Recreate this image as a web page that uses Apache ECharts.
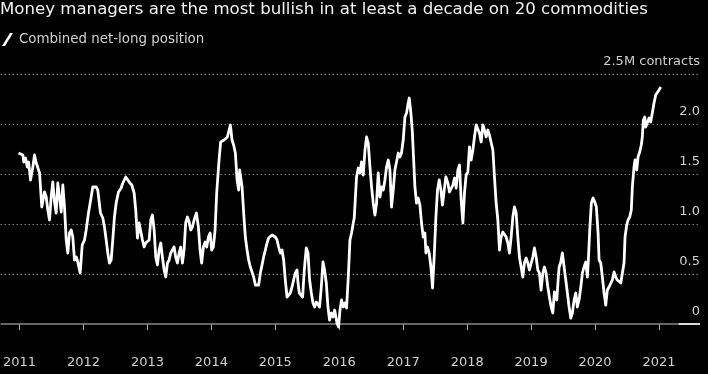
<!DOCTYPE html>
<html>
<head>
<meta charset="utf-8">
<script src="https://cdn.jsdelivr.net/npm/echarts@6/dist/echarts.min.js"></script>
<style>
html,body{margin:0;padding:0;background:#000;}
#chart{width:708px;height:374px;}
</style>
</head>
<body>
<div id="chart"></div>
<script>
// Decimal-year dates and combined net-long position, million contracts
const dates = [
2010.984,2011.052,2011.067,2011.094,2011.120,2011.141,2011.172,2011.208,2011.234,2011.261,2011.286,2011.313,2011.348,2011.391,2011.417,2011.442,2011.469,2011.495,2011.520,2011.547,2011.573,2011.598,2011.625,2011.652,2011.677,2011.703,2011.730,2011.755,2011.781,2011.808,2011.833,2011.859,2011.886,2011.911,2011.948,2011.980,
2012.016,2012.042,2012.078,2012.120,2012.145,2012.198,2012.223,2012.266,2012.302,2012.328,2012.355,2012.380,2012.406,2012.433,2012.458,2012.484,2012.511,2012.547,2012.589,2012.609,2012.661,2012.688,2012.714,2012.755,2012.792,2012.817,2012.844,2012.870,2012.895,2012.922,2012.948,2012.973,
2013.000,2013.027,2013.052,2013.078,2013.105,2013.130,2013.156,2013.183,2013.208,2013.234,2013.261,2013.286,2013.313,2013.339,2013.364,2013.391,2013.417,2013.442,2013.469,2013.495,2013.520,2013.547,2013.573,2013.598,2013.625,2013.652,2013.677,2013.703,2013.730,2013.766,2013.797,2013.823,2013.848,2013.875,2013.902,2013.927,2013.953,2013.980,
2014.005,2014.031,2014.058,2014.083,2014.120,2014.145,2014.172,2014.198,2014.223,2014.250,2014.277,2014.297,2014.323,2014.348,2014.375,2014.402,2014.427,2014.442,2014.464,2014.480,2014.505,2014.531,2014.558,2014.583,2014.609,2014.636,2014.661,2014.688,2014.714,2014.739,2014.766,2014.792,2014.817,2014.844,2014.870,2014.895,2014.922,2014.948,2014.973,
2015.000,2015.027,2015.052,2015.078,2015.105,2015.130,2015.156,2015.183,2015.208,2015.234,2015.261,2015.286,2015.313,2015.339,2015.355,2015.375,2015.402,2015.427,2015.453,2015.484,2015.511,2015.536,2015.563,2015.589,2015.614,2015.641,2015.667,2015.692,2015.719,2015.745,2015.770,2015.797,2015.823,2015.848,2015.875,2015.902,2015.927,2015.964,2015.989,
2016.011,2016.036,2016.063,2016.089,2016.114,2016.141,2016.167,2016.192,2016.219,2016.234,2016.255,2016.270,2016.297,2016.323,2016.348,2016.375,2016.402,2016.427,2016.453,2016.480,2016.505,2016.531,2016.558,2016.583,2016.609,2016.636,2016.661,2016.688,2016.714,2016.739,2016.766,2016.792,2016.817,2016.844,2016.870,2016.895,2016.922,2016.948,2016.973,
2017.000,2017.027,2017.052,2017.078,2017.094,2017.120,2017.141,2017.161,2017.183,2017.208,2017.234,2017.261,2017.286,2017.313,2017.339,2017.355,2017.380,2017.406,2017.433,2017.458,2017.484,2017.511,2017.536,2017.563,2017.589,2017.614,2017.641,2017.667,2017.698,2017.723,2017.750,2017.777,2017.802,2017.828,2017.855,2017.880,2017.906,2017.933,2017.958,2017.984,
2018.011,2018.036,2018.063,2018.089,2018.114,2018.141,2018.167,2018.192,2018.219,2018.245,2018.270,2018.297,2018.323,2018.348,2018.375,2018.402,2018.427,2018.453,2018.480,2018.505,2018.531,2018.558,2018.583,2018.609,2018.636,2018.661,2018.688,2018.714,2018.739,2018.766,2018.792,2018.817,2018.844,2018.870,2018.895,2018.922,2018.948,2018.973,
2019.000,2019.027,2019.052,2019.078,2019.105,2019.130,2019.156,2019.183,2019.208,2019.234,2019.261,2019.286,2019.313,2019.339,2019.364,2019.386,2019.402,2019.422,2019.438,2019.464,2019.489,2019.516,2019.542,2019.567,2019.594,2019.620,2019.645,2019.672,2019.698,2019.723,2019.750,2019.777,2019.802,2019.828,2019.855,2019.880,2019.895,2019.917,2019.942,2019.969,2019.995,
2020.020,2020.047,2020.063,2020.089,2020.114,2020.141,2020.167,2020.192,2020.219,2020.245,2020.270,2020.297,2020.323,2020.348,2020.375,2020.402,2020.427,2020.453,2020.469,2020.495,2020.516,2020.542,2020.567,2020.583,2020.609,2020.625,2020.652,2020.672,2020.698,2020.723,2020.739,2020.755,2020.777,2020.792,2020.817,2020.844,2020.870,2020.895,2020.922,2020.948,2020.973,
2021.000,2021.027
];
const netLong = [
1.71,1.69,1.62,1.66,1.57,1.62,1.44,1.57,1.69,1.61,1.61,1.51,1.17,1.32,1.27,1.14,1.04,1.27,1.42,1.22,1.11,1.41,1.27,1.12,1.39,1.17,0.84,0.71,0.91,0.94,0.87,0.64,0.67,0.62,0.51,0.79,
0.84,0.94,1.11,1.27,1.37,1.37,1.34,1.11,1.06,0.97,0.84,0.71,0.61,0.64,0.84,1.07,1.21,1.32,1.36,1.40,1.47,1.46,1.42,1.39,1.31,1.14,0.86,1.01,0.99,0.84,0.77,0.81,
0.79,0.84,1.04,1.09,0.94,0.67,0.59,0.74,0.81,0.67,0.54,0.47,0.61,0.64,0.71,0.74,0.77,0.67,0.61,0.71,0.77,0.61,0.74,1.01,1.07,1.02,0.94,0.97,1.04,1.11,0.97,0.74,0.61,0.77,0.82,0.77,0.87,0.91,
0.74,0.77,0.94,1.31,1.64,1.82,1.81,1.84,1.82,1.87,1.94,1.99,1.84,1.79,1.71,1.44,1.34,1.54,1.56,1.37,1.11,0.87,0.74,0.64,0.57,0.52,0.47,0.39,0.37,0.39,0.51,0.59,0.67,0.74,0.81,0.86,0.87,0.89,0.87,
0.87,0.84,0.77,0.71,0.74,0.64,0.44,0.27,0.26,0.31,0.37,0.44,0.51,0.54,0.41,0.31,0.31,0.27,0.54,0.76,0.71,0.44,0.31,0.21,0.17,0.22,0.21,0.17,0.37,0.62,0.54,0.41,0.17,0.04,0.11,0.07,0.14,0.01,-0.03,
0.14,0.24,0.17,0.21,0.16,0.47,0.84,0.91,1.01,1.06,1.04,1.47,1.56,1.51,1.62,1.49,1.74,1.87,1.81,1.57,1.37,1.21,1.09,1.21,1.51,1.27,1.37,1.34,1.44,1.57,1.64,1.54,1.17,1.34,1.54,1.62,1.71,1.67,1.71,
1.84,2.07,2.11,2.21,2.26,2.11,1.94,1.67,1.37,1.21,1.26,1.19,1.01,0.87,0.91,0.71,0.77,0.71,0.57,0.36,0.67,1.07,1.34,1.44,1.34,1.19,1.34,1.47,1.41,1.32,1.33,1.39,1.46,1.36,1.54,1.59,1.24,1.01,1.31,1.49,
1.52,1.77,1.64,1.74,1.87,1.99,2.01,1.91,1.82,1.99,1.94,1.87,1.94,1.89,1.88,1.74,1.47,1.21,1.04,0.74,0.87,0.92,0.91,0.87,0.81,0.71,0.87,1.07,1.17,1.11,0.87,0.67,0.57,0.47,0.61,0.66,0.61,0.54,
0.56,0.67,0.76,0.67,0.54,0.51,0.34,0.51,0.57,0.51,0.37,0.27,0.17,0.11,0.32,0.31,0.24,0.44,0.57,0.62,0.71,0.57,0.44,0.31,0.17,0.06,0.11,0.24,0.31,0.17,0.24,0.37,0.51,0.57,0.62,0.47,0.64,0.94,1.21,1.26,1.22,
1.17,0.91,0.64,0.61,0.47,0.31,0.19,0.34,0.37,0.37,0.44,0.52,0.47,0.44,0.44,0.41,0.41,0.61,0.87,0.99,1.04,1.07,1.14,1.37,1.57,1.64,1.54,1.67,1.72,1.79,1.87,2.04,2.07,1.97,2.01,2.06,2.02,2.11,2.21,2.29,2.31,
2.34,2.37
];
const yearTicks = [2011,2012,2013,2014,2015,2016,2017,2018,2019,2020,2021];
const gridLevels = [0.5,1.0,1.5,2.0,2.5];
const gridLabels = ['0.5','1.0','1.5','2.0','2.5M contracts'];
const seriesName = 'Combined net-long position';
const titleText = 'Money managers are the most bullish in at least a decade on 20 commodities';

const FONT = 'DejaVu Sans';
const chart = echarts.init(document.getElementById('chart'), null, {renderer:'canvas'});
const seriesData = dates.map((d,i)=>[d, netLong[i]]);

const markData = gridLevels.map((v,i)=>({
  yAxis: v,
  lineStyle:{type:[1.5,2.5], color:'#7a7a7a', width:1},
  label:{formatter: gridLabels[i]}
}));
markData.push({yAxis:0, lineStyle:{type:'solid', color:'#8a8a8a', width:1.5}, label:{formatter:'0'}});
markData.push([{xAxis:2021.31, yAxis:0, lineStyle:{type:'solid', color:'#ffffff', width:1.5}, label:{show:false}}, {xAxis:2021.64, yAxis:0}]);

chart.setOption({
  backgroundColor:'#000',
  animation:false,
  title:{text:titleText, left:0, top:1, padding:0,
    textStyle:{color:'#f2f2f2', fontSize:16.6, fontWeight:'normal', fontFamily:FONT}},
  legend:{left:2, top:33, padding:0, itemWidth:11, itemHeight:13, itemGap:10,
    data:[{name:seriesName, icon:'path://M0,13 L3,13 L11,0 L8,0 Z'}],
    textStyle:{color:'#d0d0d0', fontSize:13.4, fontFamily:FONT, padding:[0,0,0,1]}},
  grid:{left:0, right:8, top:74, bottom:32},
  xAxis:{type:'value', min:2010.703, max:2021.641,
    axisLine:{show:false},
    axisTick:{show:true, length:6, customValues:yearTicks, lineStyle:{color:'#aaa'}},
    axisLabel:{customValues:yearTicks, color:'#d0d0d0', fontSize:13, fontFamily:FONT, margin:14,
      formatter:v=>String(Math.round(v))},
    splitLine:{show:false}},
  yAxis:{type:'value', min:-0.18, max:2.5, position:'right',
    axisLine:{show:false}, axisTick:{show:false}, axisLabel:{show:false}, splitLine:{show:false}},
  series:[
    {name:'gridlines', type:'line', data:seriesData, z:1, silent:true, symbol:'none',
      lineStyle:{opacity:0}, itemStyle:{opacity:0}, legendHoverLink:false, tooltip:{show:false},
      markLine:{silent:true, symbol:'none', animation:false,
        label:{position:'insideEndTop', distance:[0,6], color:'#d0d0d0', fontSize:13, fontFamily:FONT},
        data:markData}},
    {name:seriesName, type:'line', data:seriesData, z:5, symbol:'none', showSymbol:false,
      lineStyle:{color:'#ffffff', width:2.8, join:'round'}, itemStyle:{color:'#ffffff'}}
  ]
});
</script>
</body>
</html>
